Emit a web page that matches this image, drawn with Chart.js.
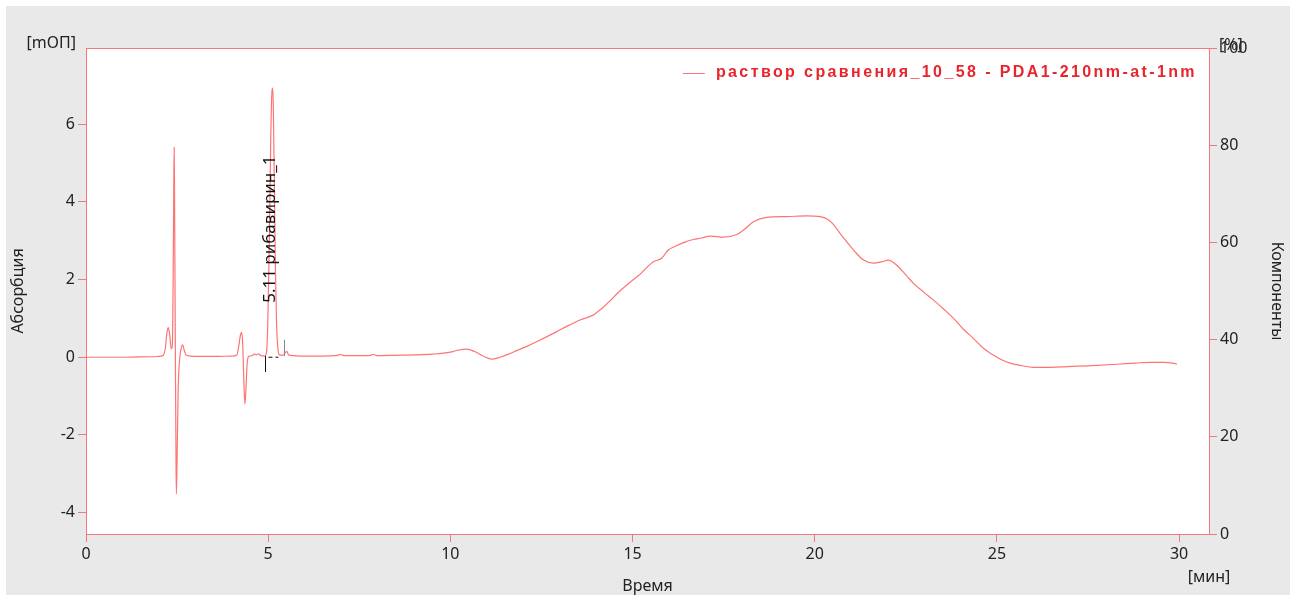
<!DOCTYPE html>
<html>
<head>
<meta charset="utf-8">
<script src="https://cdn.jsdelivr.net/npm/chart.js@4.4.1/dist/chart.umd.min.js"></script>
<style>
  body { margin: 0; background: #ffffff; }
  #wrap { position: absolute; left: 6px; top: 6px; width: 1284px; height: 589px; background: #e9e9e9; }
</style>
</head>
<body>
<div id="wrap"><canvas id="chromChart" width="1284" height="589"></canvas></div>
<script>
// Chromatogram data (time in min, absorbance in mAU)
const times = [
    0.0, 0.5, 1.0, 1.5, 2.0, 2.12, 2.18, 2.22, 2.26, 2.30, 2.34, 2.37, 2.39, 2.41, 2.42, 2.43,
    2.45, 2.47, 2.48, 2.50, 2.53, 2.57, 2.61, 2.65, 2.69, 2.75, 3.0, 3.5, 4.0, 4.14, 4.19, 4.24,
    4.27, 4.30, 4.33, 4.36, 4.39, 4.42, 4.46, 4.55, 4.62, 4.68, 4.73, 4.80, 4.90, 4.95, 4.99, 5.03,
    5.07, 5.10, 5.12, 5.14, 5.17, 5.20, 5.23, 5.27, 5.31, 5.40, 5.47, 5.51, 5.56, 5.70, 6.0, 6.5,
    6.9, 7.0, 7.1, 7.5, 7.8, 7.9, 8.0, 8.5, 9.0, 9.5, 10.0, 10.2, 10.45, 10.68, 10.9, 11.14,
    11.36, 11.6, 11.82, 12.1, 12.37, 12.65, 12.92, 13.25, 13.56, 13.93, 14.15, 14.38, 14.60, 14.84, 15.0, 15.21,
    15.4, 15.57, 15.80, 15.98, 16.2, 16.40, 16.67, 16.9, 17.13, 17.49, 17.86, 18.04, 18.32, 18.68, 19.23, 19.78,
    20.15, 20.35, 20.51, 20.70, 20.88, 21.1, 21.34, 21.61, 21.85, 22.02, 22.25, 22.5, 22.71, 23.0, 23.26, 23.55,
    23.81, 24.08, 24.36, 24.63, 24.82, 25.1, 25.36, 25.7, 26.0, 26.5, 26.92, 27.5, 28.29, 28.8, 29.21, 29.6,
    29.94
];
const absorbance = [
    0.00, 0.00, 0.00, 0.01, 0.02, 0.05, 0.25, 0.62, 0.76, 0.55, 0.22, 0.30, 1.8, 4.6, 5.40, 4.2,
    0.5, -2.6, -3.52, -2.6, -0.8, -0.05, 0.22, 0.32, 0.20, 0.05, 0.02, 0.02, 0.03, 0.06, 0.28, 0.58,
    0.64, 0.35, -0.55, -1.21, -0.8, -0.2, 0.02, 0.04, 0.08, 0.06, 0.09, 0.04, 0.03, 0.10, 0.9, 2.9,
    5.6, 6.8, 6.93, 6.5, 4.4, 2.2, 0.85, 0.2, 0.06, 0.05, 0.12, 0.15, 0.06, 0.04, 0.03, 0.03,
    0.05, 0.07, 0.04, 0.04, 0.05, 0.07, 0.04, 0.05, 0.06, 0.08, 0.13, 0.18, 0.21, 0.14, 0.03, -0.05,
    0.0, 0.08, 0.17, 0.28, 0.40, 0.53, 0.66, 0.82, 0.96, 1.09, 1.25, 1.45, 1.66, 1.86, 1.98, 2.14,
    2.32, 2.46, 2.55, 2.76, 2.87, 2.95, 3.03, 3.07, 3.12, 3.09, 3.16, 3.27, 3.49, 3.60, 3.62, 3.64,
    3.62, 3.55, 3.42, 3.18, 2.97, 2.72, 2.50, 2.42, 2.46, 2.50, 2.37, 2.12, 1.90, 1.67, 1.47, 1.23,
    1.00, 0.72, 0.48, 0.23, 0.10, -0.05, -0.15, -0.22, -0.26, -0.26, -0.24, -0.22, -0.18, -0.15, -0.13, -0.13,
    -0.17
];

// Axis ticks
const xTicks = [0, 5, 10, 15, 20, 25, 30];
const yTicks = [-4, -2, 0, 2, 4, 6];
const y2Ticks = [0, 20, 40, 60, 80, 100];

// Peak annotation
const peakTimes = [5.11];
const peakNames = ["рибавирин_1"];
const peakStarts = [4.91];
const peakEnds = [5.43];

const seriesName = "раствор сравнения_10_58 - PDA1-210nm-at-1nm";

const frameColor = "#f07a7a";
const traceColor = "rgba(255, 80, 80, 0.8)";
const textColor = "#222222";
const fontFamily = "'Noto Sans', sans-serif";

// Extra drawing: background, frame, axis titles, legend, peak label
const decorPlugin = {
    id: "decor",
    beforeDraw(chart) {
        const { ctx, chartArea: a } = chart;
        ctx.save();
        ctx.fillStyle = "#ffffff";
        ctx.fillRect(a.left, a.top, a.right - a.left, a.bottom - a.top);
        ctx.restore();
    },
    afterDatasetsDraw(chart) {
        const { ctx, scales } = chart;
        const xs = scales.x, ys = scales.y;
        ctx.save();
        // integration markers
        ctx.lineWidth = 1;
        peakStarts.forEach((t) => {
            const px = Math.round(xs.getPixelForValue(t)) + 0.5;
            ctx.strokeStyle = "#111";
            ctx.beginPath();
            ctx.moveTo(px, ys.getPixelForValue(0.03));
            ctx.lineTo(px, ys.getPixelForValue(-0.38));
            ctx.moveTo(px + 3, ys.getPixelForValue(0.0));
            ctx.lineTo(px + 7, ys.getPixelForValue(0.0));
            ctx.stroke();
        });
        peakEnds.forEach((t) => {
            const px = Math.round(xs.getPixelForValue(t)) + 0.5;
            ctx.strokeStyle = "#888";
            ctx.beginPath();
            ctx.moveTo(px, ys.getPixelForValue(0.03));
            ctx.lineTo(px, ys.getPixelForValue(0.45));
            ctx.stroke();
            ctx.strokeStyle = "#111";
            ctx.beginPath();
            ctx.moveTo(px - 9, ys.getPixelForValue(0.0));
            ctx.lineTo(px - 6, ys.getPixelForValue(0.0));
            ctx.stroke();
        });
        // peak labels (vertical)
        ctx.fillStyle = "#111";
        ctx.font = "17px " + fontFamily;
        ctx.textAlign = "left";
        ctx.textBaseline = "middle";
        peakTimes.forEach((t, i) => {
            ctx.save();
            ctx.translate(xs.getPixelForValue(t) - 2, ys.getPixelForValue(1.4));
            ctx.rotate(-Math.PI / 2);
            ctx.fillText(t.toFixed(2) + " " + peakNames[i], 0, 0);
            ctx.restore();
        });
        ctx.restore();
    },
    afterDraw(chart) {
        const { ctx, chartArea: a, width } = chart;
        ctx.save();
        // frame
        ctx.strokeStyle = frameColor;
        ctx.lineWidth = 1;
        ctx.strokeRect(a.left + 0.5, a.top + 0.5, a.right - a.left, a.bottom - a.top);

        // axis titles
        ctx.fillStyle = textColor;
        ctx.font = "16px " + fontFamily;
        ctx.textBaseline = "middle";
        ctx.textAlign = "right";
        ctx.fillText("[mОП]", a.left - 10, a.top - 5);
        ctx.textAlign = "left";
        ctx.fillText("[%]", a.right + 10, a.top - 3);
        ctx.textAlign = "center";
        ctx.fillText("[мин]", a.right, a.bottom + 43);
        ctx.fillText("Время", (a.left + a.right) / 2, a.bottom + 52);

        ctx.save();
        ctx.translate(12, (a.top + a.bottom) / 2);
        ctx.rotate(-Math.PI / 2);
        ctx.fillText("Абсорбция", 0, 0);
        ctx.restore();

        ctx.save();
        ctx.translate(width - 13, (a.top + a.bottom) / 2);
        ctx.rotate(Math.PI / 2);
        ctx.fillText("Компоненты", 0, 0);
        ctx.restore();

        // legend
        ctx.font = "bold 16px 'Liberation Sans', Arial, sans-serif";
        ctx.letterSpacing = "2.4px";
        ctx.textAlign = "right";
        ctx.fillStyle = "#e8242c";
        const lx = a.right - 12;
        const ly = a.top + 25;
        ctx.fillText(seriesName, lx, ly);
        const w = ctx.measureText(seriesName).width;
        ctx.strokeStyle = traceColor;
        ctx.beginPath();
        ctx.moveTo(lx - w - 33, ly + 0.5);
        ctx.lineTo(lx - w - 11, ly + 0.5);
        ctx.stroke();
        ctx.restore();
    }
};

function axisCommon(ticks) {
    return {
        afterBuildTicks: (scale) => { scale.ticks = ticks.map((v) => ({ value: v })); },
        grid: { drawOnChartArea: false, drawTicks: true, tickLength: 8, color: frameColor },
        border: { display: true, color: frameColor },
        ticks: { color: textColor, font: { family: fontFamily, size: 16 }, padding: 3, maxRotation: 0, autoSkip: false }
    };
}

const config = {
    type: "line",
    data: {
        datasets: [
            {
                label: seriesName,
                data: times.map((t, i) => ({ x: t, y: absorbance[i] })),
                borderColor: traceColor,
                borderWidth: 1.2,
                pointRadius: 0,
                cubicInterpolationMode: "monotone",
                fill: false,
                yAxisID: "y"
            }
        ]
    },
    options: {
        responsive: false,
        animation: false,
        layout: { padding: { top: 42, left: 0, right: 0, bottom: 0 } },
        plugins: { legend: { display: false }, tooltip: { enabled: false } },
        scales: {
            x: Object.assign(axisCommon(xTicks), {
                type: "linear", position: "bottom", min: 0, max: 30.82,
                afterFit: (s) => { s.height = 61; }
            }),
            y: Object.assign(axisCommon(yTicks), {
                type: "linear", position: "left", min: -4.55, max: 7.96,
                afterFit: (s) => { s.width = 80; }
            }),
            y2: Object.assign(axisCommon(y2Ticks), {
                type: "linear", position: "right", min: 0, max: 100, display: true,
                afterFit: (s) => { s.width = 81; }
            })
        }
    },
    plugins: [decorPlugin]
};

const ctx = document.getElementById("chromChart").getContext("2d");
new Chart(ctx, config);
</script>
</body>
</html>
